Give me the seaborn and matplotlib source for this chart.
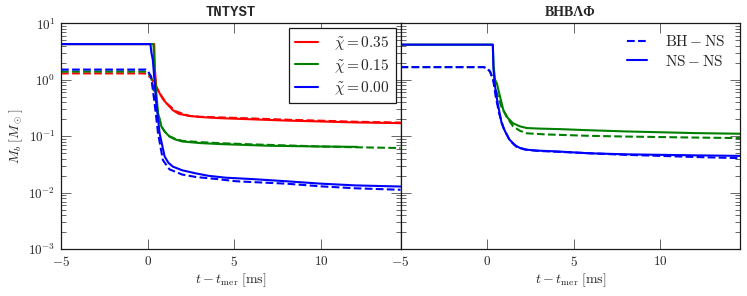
import math
import matplotlib
matplotlib.use("Agg")
import matplotlib.pyplot as plt
from matplotlib.lines import Line2D
from matplotlib.ticker import FixedLocator, FuncFormatter, LogLocator, NullFormatter
import seaborn as sns

# --- datos: t - t_mer [ms] y M_b [M_sun] ---

# TNTYST, NS-NS (linea continua)
t_tn_035 = [-5, 0.38, 0.42, 0.5, 0.69, 0.88, 1.07, 1.46, 1.8, 2.4, 3, 4.1, 6, 8, 10, 12, 14.6]
m_tn_035 = [4.3, 4.3, 1.5, 0.76, 0.58, 0.46, 0.39, 0.29, 0.25, 0.23, 0.22, 0.21, 0.2, 0.19, 0.183, 0.176, 0.171]
t_tn_015 = [-5, 0.34, 0.38, 0.5, 0.6, 0.79, 1.0, 1.26, 1.6, 2.0, 3, 4.1, 7, 10, 12.1]
m_tn_015 = [4.3, 4.3, 1.6, 0.6, 0.26, 0.15, 0.12, 0.099, 0.088, 0.081, 0.076, 0.073, 0.068, 0.066, 0.065]
t_tn_000 = [-5, 0.16, 0.22, 0.3, 0.5, 0.69, 0.98, 1.2, 1.46, 2.0, 2.8, 3.5, 4.5, 6, 8, 10, 12, 14.6]
m_tn_000 = [4.3, 4.3, 3.0, 2.26, 0.39, 0.114, 0.044, 0.034, 0.029, 0.025, 0.022, 0.02, 0.0185, 0.0175, 0.016, 0.0145, 0.0135, 0.0129]

# TNTYST, BH-NS (linea discontinua)
t_tn_035_bh = [-5, -0.17, 0.0, 0.2, 0.35, 0.5, 0.69, 1.07, 1.65, 2.4, 3, 4, 6, 8, 10, 12, 14.6]
m_tn_035_bh = [1.3, 1.3, 1.22, 1.07, 0.9, 0.74, 0.58, 0.39, 0.275, 0.23, 0.222, 0.217, 0.207, 0.197, 0.189, 0.181, 0.175]
t_tn_015_bh = [-5, -0.15, 0.0, 0.2, 0.4, 0.6, 0.79, 1.0, 1.26, 1.6, 2.0, 3, 4, 6, 8, 10, 12, 14.6]
m_tn_015_bh = [1.4, 1.4, 1.33, 1.12, 0.55, 0.26, 0.15, 0.12, 0.1, 0.09, 0.083, 0.079, 0.076, 0.072, 0.069, 0.066, 0.064, 0.062]
t_tn_000_bh = [-5, -0.1, 0.0, 0.2, 0.4, 0.6, 0.88, 1.26, 2.0, 2.8, 4, 5.1, 6, 8, 10, 12, 14.6]
m_tn_000_bh = [1.52, 1.52, 1.45, 1.15, 0.39, 0.114, 0.038, 0.026, 0.021, 0.019, 0.0175, 0.016, 0.0155, 0.0145, 0.013, 0.012, 0.0113]

# BHBLamPhi, NS-NS
t_bh_015 = [-5, 0.33, 0.37, 0.46, 0.56, 0.75, 0.94, 1.2, 1.5, 1.9, 2.3, 3, 4.2, 5.9, 8, 10, 12, 14.6]
m_bh_015 = [4.2, 4.2, 1.8, 1.0, 0.87, 0.5, 0.29, 0.21, 0.17, 0.15, 0.14, 0.137, 0.134, 0.128, 0.122, 0.118, 0.114, 0.111]
t_bh_000 = [-5, 0.33, 0.37, 0.46, 0.6, 0.84, 1.05, 1.3, 1.6, 1.9, 2.3, 2.8, 4, 5.9, 8, 10, 12, 14.6]
m_bh_000 = [4.2, 4.2, 1.5, 0.76, 0.4, 0.17, 0.12, 0.087, 0.07, 0.062, 0.058, 0.056, 0.054, 0.05, 0.048, 0.047, 0.046, 0.045]

# BHBLamPhi, BH-NS
t_bh_015_bh = [-5, -0.2, 0.0, 0.17, 0.35, 0.55, 0.8, 1.13, 1.5, 1.9, 2.3, 3.4, 5.9, 8, 10, 12, 14.6]
m_bh_015_bh = [1.68, 1.68, 1.6, 1.4, 1.0, 0.6, 0.35, 0.22, 0.15, 0.125, 0.113, 0.108, 0.102, 0.099, 0.097, 0.095, 0.093]
t_bh_000_bh = [-5, -0.2, 0.0, 0.17, 0.35, 0.5, 0.7, 0.95, 1.3, 1.7, 2.2, 3, 4.2, 6, 8, 10, 12, 14.6]
m_bh_000_bh = [1.68, 1.68, 1.6, 1.4, 1.0, 0.5, 0.25, 0.14, 0.085, 0.065, 0.058, 0.055, 0.053, 0.05, 0.047, 0.045, 0.043, 0.041]

etiquetas_chi = [r'$\tilde{\chi} = 0.35$', r'$\tilde{\chi} = 0.15$', r'$\tilde{\chi} = 0.00$']
etiquetas_tipo = [r'$\rm BH - NS$', r'$\rm NS - NS$']
colores = ['#ff0000', '#008000', '#0000ff']

sns.set_theme(style="ticks")
plt.rcParams['mathtext.fontset'] = 'cm'
plt.rcParams['font.family'] = ['DejaVu Serif']
plt.rcParams['axes.linewidth'] = 0.9

fig, (ax1, ax2) = plt.subplots(1, 2, figsize=(7.47, 2.96), dpi=100, sharey=True)
fig.subplots_adjust(left=0.0817, right=0.9906, bottom=0.158, top=0.921, wspace=0)


def curva(ax, t, m, color, ls='-'):
    sns.lineplot(x=t, y=m, ax=ax, color=color, linestyle=ls, lw=1.5,
                 estimator=None, sort=False)


# panel izquierdo
curva(ax1, t_tn_035_bh, m_tn_035_bh, colores[0], '--')
curva(ax1, t_tn_015_bh, m_tn_015_bh, colores[1], '--')
curva(ax1, t_tn_000_bh, m_tn_000_bh, colores[2], '--')
curva(ax1, t_tn_035, m_tn_035, colores[0])
curva(ax1, t_tn_015, m_tn_015, colores[1])
curva(ax1, t_tn_000, m_tn_000, colores[2])

# panel derecho
curva(ax2, t_bh_015_bh, m_bh_015_bh, colores[1], '--')
curva(ax2, t_bh_000_bh, m_bh_000_bh, colores[2], '--')
curva(ax2, t_bh_015, m_bh_015, colores[1])
curva(ax2, t_bh_000, m_bh_000, colores[2])

fmt_x = FuncFormatter(lambda v, p: f'${v:g}$')
fmt_y = FuncFormatter(lambda v, p: r'$10^{%d}$' % round(math.log10(v)))

for ax in (ax1, ax2):
    ax.set_yscale('log')
    ax.set_ylim(1e-3, 1e1)
    ax.set_xlim(-5, 14.6)
    ax.xaxis.set_major_locator(FixedLocator([-5, 0, 5, 10]))
    ax.xaxis.set_major_formatter(fmt_x)
    ax.yaxis.set_major_locator(LogLocator(base=10, numticks=10))
    ax.yaxis.set_minor_locator(LogLocator(base=10, subs=range(2, 10), numticks=20))
    ax.yaxis.set_minor_formatter(NullFormatter())
    ax.tick_params(which='major', direction='in', length=7, width=0.6, color='0.3',
                   top=True, right=True, labelsize=9.5, pad=4)
    ax.tick_params(which='minor', direction='in', length=3.5, width=0.6, color='0.3',
                   top=False, right=True)
    ax.tick_params(axis='x', which='minor', bottom=False, top=False)
    ax.set_xlabel(r'$t - t_{\rm mer}\;[\rm ms]$', fontsize=10, labelpad=2)
    for s in ax.spines.values():
        s.set_color('k')

ax1.yaxis.set_major_formatter(fmt_y)
ax1.set_ylabel(r'$M_b\;[M_\odot]$', fontsize=10, labelpad=2)
ax2.tick_params(axis='y', which='both', labelleft=False)
ax2.set_ylabel('')

ax1.set_title('TNTYST', family='Liberation Mono', weight='bold', fontsize=10, pad=5)
ax2.set_title('BHBΛΦ', family='Liberation Serif', weight='bold', fontsize=10, pad=5)

# leyendas
h1 = [Line2D([], [], color=c, lw=1.5) for c in colores]
leg1 = ax1.legend(h1, etiquetas_chi, loc='upper right', fontsize=11, frameon=True,
                  fancybox=False, edgecolor='k', framealpha=1, handlelength=1.5,
                  handletextpad=1.1, labelspacing=0.3, borderpad=0.4,
                  borderaxespad=0.3, bbox_to_anchor=(1.0, 1.0))
leg1.get_frame().set_linewidth(0.9)

h2 = [Line2D([], [], color=colores[2], lw=1.5, ls='--'),
      Line2D([], [], color=colores[2], lw=1.5)]
ax2.legend(h2, etiquetas_tipo, loc='upper right', fontsize=11,
           frameon=False, handlelength=1.3, handletextpad=1.2, labelspacing=0.3,
           borderaxespad=0.3, bbox_to_anchor=(0.99, 1.0))

plt.savefig('out.png', dpi=100)
plt.close()
